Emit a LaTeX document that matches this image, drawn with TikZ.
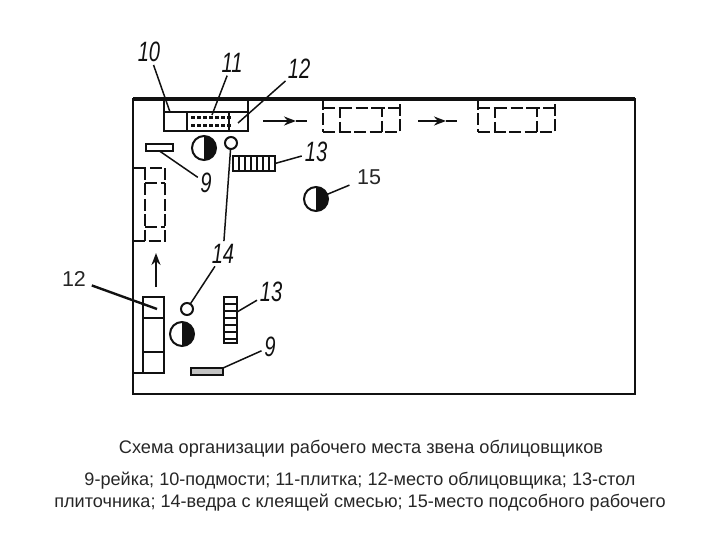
\documentclass[tikz,border=0pt]{standalone}
\usepackage{fontspec}
\setmainfont{Liberation Sans}
\usetikzlibrary{arrows.meta}
\definecolor{ink}{HTML}{111111}
\definecolor{caption}{HTML}{262626}
\newcommand{\halfdisc}[3]{%
  \node[worker] (#3) at (#1,#2) {};
  \fill[ink] (#3.north) arc[start angle=90, end angle=-90, radius=12pt] -- cycle;}
\tikzset{
  plan/.style={draw=ink, line width=2.8pt, inner sep=0pt, outer sep=0pt},
  stand/.style={draw=ink, line width=2.2pt, inner sep=0pt, outer sep=0pt, anchor=north west},
  ghost/.style={stand, dash pattern=on 12pt off 3.5pt, line width=2.2pt},
  worker/.style={circle, draw=ink, line width=2pt, minimum size=24pt, inner sep=0pt, outer sep=0pt, fill=white},
  bucket/.style={circle, draw=ink, line width=2pt, minimum size=12pt, inner sep=0pt, outer sep=0pt},
  rail/.style={stand, line width=2pt},
  hand/.style={font=\fontsize{28}{28}\selectfont\itshape, text=ink, inner sep=0pt, xscale=.72},
  printed/.style={font=\fontsize{21.5}{21.5}\selectfont, text=caption, inner sep=0pt},
  leader/.style={draw=ink, line width=1.5pt},
  move/.style={draw=ink, line width=2.8pt}
}
\begin{document}
\begin{tikzpicture}[x=1pt, y=-1pt]
    \useasboundingbox (0,0) rectangle (720,540);
    % room
    \node[plan, anchor=north west, minimum width=502pt, minimum height=295pt] (room) at (133,99) {};
    \draw[ink, line width=4pt] (room.north west) -- (room.north east);
    % scaffold against the top wall
    \node[stand, minimum width=84pt, minimum height=19pt] (scaffold) at (164,112) {};
    \draw[stand] (scaffold.north west) -- (scaffold.north west |- room.north);
    \draw[stand] (scaffold.north east) -- (scaffold.north east |- room.north);
    \node[stand, minimum width=42pt, minimum height=19pt] (tile) at (187,112) {};
    \foreach \x in {191,197,...,227} {
      \fill[ink] (\x,116) rectangle +(3.5,3);
      \fill[ink] (\x,124) rectangle +(3.5,3);
    }
    % scaffold, next positions
    \foreach \x/\name in {323/ghostA, 478/ghostB} {
      \node[ghost, minimum width=77pt, minimum height=33pt] (\name) at (\x,99) {};
      \draw[ghost] (\x,108) -- ++(17,0) -- ++(0,24);
      \draw[ghost] (\x+77,108) -- ++(-18,0) -- ++(0,24);
      \draw[ghost] (\x+17,108) -- ++(42,0);
    }
    % scaffold on the left wall
    \node[ghost, minimum width=32pt, minimum height=73pt] (ghostC) at (133,168) {};
    \draw[ghost] (145,168) -- (145,241);
    \draw[ghost] (145,183) -- (165,183);
    \draw[ghost] (145,227) -- (165,227);
    \node[stand, minimum width=21pt, minimum height=76pt] (place) at (143,297) {};
    \draw[stand] (143,318) -- (164,318);
    \draw[stand] (143,352) -- (164,352);
    \draw[stand] (133,373) -- (143,373);
    % direction of work
    \coordinate (moveA0) at (263,121);
    \coordinate (moveA1) at (296,121);
    \coordinate (moveA2) at (307,121);
    \draw[move, -{Stealth[length=12pt, width=9pt]}] (moveA0) -- (moveA1);
    \draw[move] (moveA1) -- (moveA2);
    \coordinate (moveB0) at (418,121);
    \coordinate (moveB1) at (446,121);
    \coordinate (moveB2) at (457,121);
    \draw[move, -{Stealth[length=12pt, width=9pt]}] (moveB0) -- (moveB1);
    \draw[move] (moveB1) -- (moveB2);
    \coordinate (moveC0) at (156,287);
    \coordinate (moveC1) at (156,253);
    \draw[move, -{Stealth[length=12pt, width=9pt]}] (moveC0) -- (moveC1);
    % workers, buckets, rails, tables
    \halfdisc{204}{148}{workerA}
    \halfdisc{316}{199}{workerB}
    \halfdisc{182}{334}{workerC}
    \node[bucket] (bucketA) at (231,143) {};
    \node[bucket] (bucketB) at (187,309) {};
    \node[rail, minimum width=27pt, minimum height=7pt] (railA) at (146,144) {};
    \node[rail, minimum width=32pt, minimum height=7pt, fill=ink!25] (railB) at (191,368) {};
    \node[stand, minimum width=42pt, minimum height=15pt] (tableA) at (233,156) {};
    \foreach \x in {239,245,...,269} \draw[ink, line width=2pt] (\x,156) -- (\x,171);
    \node[stand, minimum width=13pt, minimum height=46pt] (tableB) at (224,297) {};
    \foreach \y in {304,311,...,339} \draw[ink, line width=2pt] (224,\y) -- (237,\y);
    % labels
    \node[hand] (lab10) at (149,52) {10};
    \node[hand] (lab11) at (232,63) {11};
    \node[hand] (lab12) at (299,69) {12};
    \node[hand] (lab13a) at (316,152) {13};
    \node[hand] (lab9a) at (206,183) {9};
    \node[hand] (lab14) at (223,254) {14};
    \node[hand] (lab13b) at (271,292) {13};
    \node[hand] (lab9b) at (270,347) {9};
    \node[printed] (lab15) at (369,177) {15};
    \node[printed] (lab12b) at (74,279) {12};
    % leaders
    \coordinate (end10) at (170,112);
    \coordinate (end11) at (212,115);
    \coordinate (end12) at (238,123);
    \coordinate (end12b) at (157,309);
    \coordinate (end13b) at (237,312);
    \draw[leader, shorten <=3pt] (lab10) -- (end10);
    \draw[leader, shorten <=3pt] (lab11) -- (end11);
    \draw[leader, shorten <=3pt] (lab12) -- (end12);
    \draw[leader, shorten <=3pt] (lab13a) -- (tableA.east);
    \draw[leader, shorten <=3pt] (lab9a) -- (railA.south);
    \draw[leader, shorten <=3pt] (lab14) -- (bucketA);
    \draw[leader, shorten <=3pt] (lab14) -- (bucketB);
    \draw[leader, shorten <=3pt] (lab13b) -- (end13b);
    \draw[leader, shorten <=3pt] (lab9b) -- (railB.north east);
    \draw[leader, shorten <=8pt] (lab15) -- (workerB);
    \draw[ink, line width=2.4pt, shorten <=6pt] (lab12b) -- (end12b);
    % caption
    \node[font=\fontsize{18.2}{18.2}\selectfont, text=caption, inner sep=0pt] (title) at (361,449)
      {Схема организации рабочего места звена облицовщиков};
    \node[font=\fontsize{18.1}{22}\selectfont, text=caption, inner sep=0pt, align=center] (legend) at (360,492)
      {9-рейка; 10-подмости; 11-плитка; 12-место облицовщика; 13-стол\\
       плиточника; 14-ведра с клеящей смесью; 15-место подсобного рабочего};
  \end{tikzpicture}
\end{document}
